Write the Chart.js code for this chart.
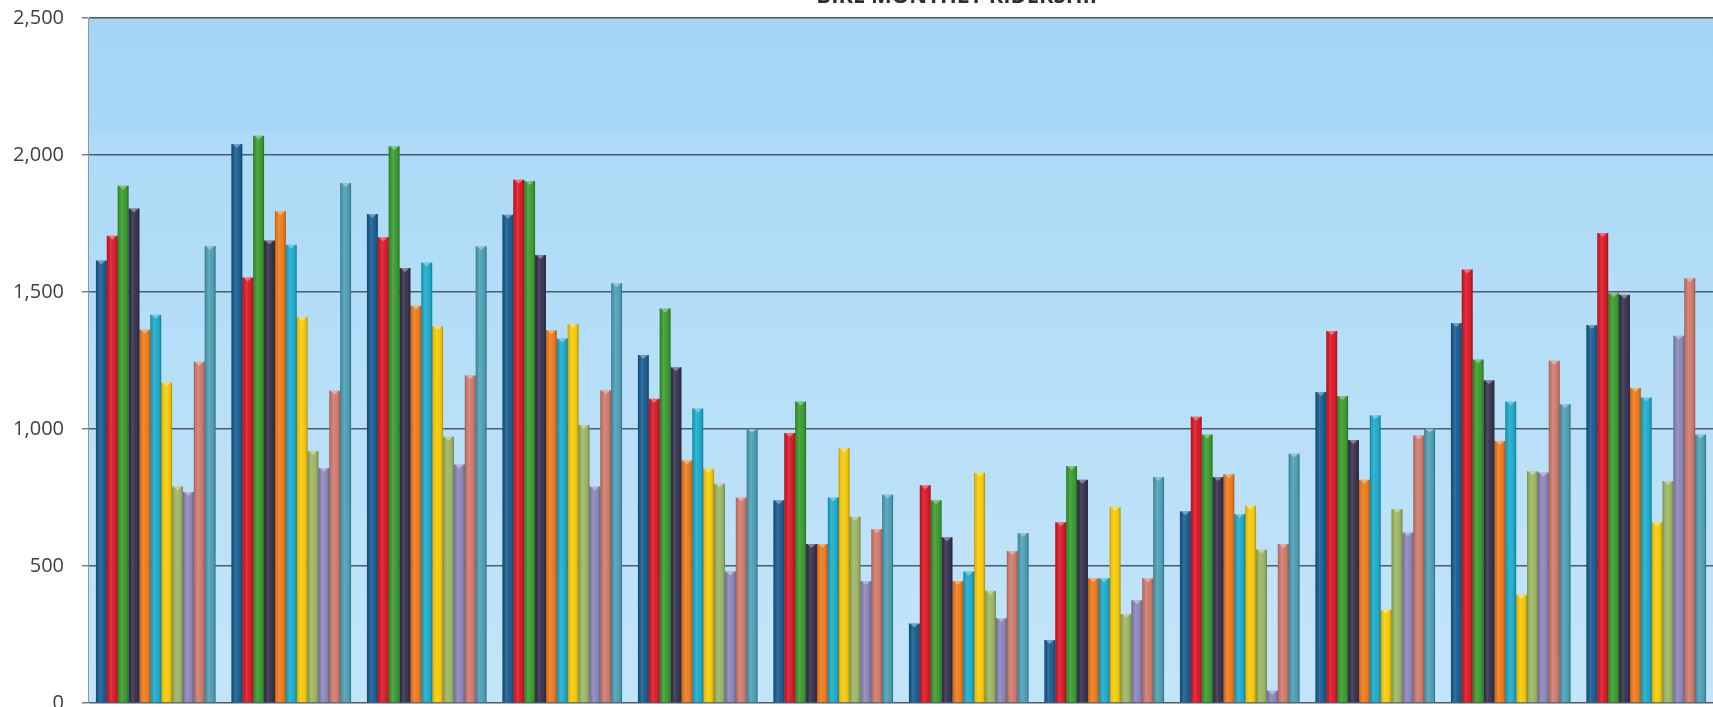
<!DOCTYPE html>
<html>
<head>
<meta charset="utf-8">
<script src="https://cdn.jsdelivr.net/npm/chart.js@4.4.1/dist/chart.umd.min.js"></script>
<style>
  html, body { margin: 0; padding: 0; background: #ffffff; overflow: hidden; width: 1713px; height: 707px; }
  #wrap { position: absolute; left: 0; top: -16px; width: 1920px; height: 749px; }
</style>
</head>
<body>
<div id="wrap"><canvas id="chart" width="1920" height="749"></canvas></div>
<script>
// Months on the category axis
const months = ['Jan', 'Feb', 'Mar', 'Apr', 'May', 'Jun', 'Jul', 'Aug', 'Sep', 'Oct', 'Nov', 'Dec'];

// Y-axis range and tick step
const yMin = 0;
const yMax = 2500;
const yStep = 500;

// Monthly ridership, one array per series
const series1  = [1615, 2040, 1785, 1782, 1270, 740, 290, 230, 700, 1135, 1387, 1380];
const series2  = [1705, 1553, 1700, 1910, 1110, 985, 795, 660, 1045, 1358, 1582, 1715];
const series3  = [1888, 2070, 2032, 1905, 1440, 1100, 740, 865, 980, 1120, 1254, 1495];
const series4  = [1805, 1688, 1588, 1635, 1225, 580, 605, 815, 825, 960, 1178, 1490];
const series5  = [1362, 1795, 1450, 1360, 885, 580, 445, 455, 835, 815, 956, 1150];
const series6  = [1417, 1672, 1608, 1330, 1075, 750, 480, 455, 690, 1050, 1100, 1115];
const series7  = [1170, 1408, 1375, 1383, 855, 930, 840, 715, 720, 340, 395, 660];
const series8  = [790, 920, 972, 1015, 800, 680, 410, 325, 560, 708, 846, 810];
const series9  = [770, 858, 870, 790, 480, 445, 310, 375, 45, 622, 841, 1340];
const series10 = [1245, 1140, 1196, 1141, 750, 635, 555, 455, 580, 977, 1249, 1550];
const series11 = [1668, 1898, 1667, 1532, 1000, 760, 620, 825, 910, 1001, 1090, 980];

const seriesNames = ['Series 1', 'Series 2', 'Series 3', 'Series 4', 'Series 5', 'Series 6',
                     'Series 7', 'Series 8', 'Series 9', 'Series 10', 'Series 11'];
const seriesData = [series1, series2, series3, series4, series5, series6,
                    series7, series8, series9, series10, series11];
const seriesColors = ['#1b5e90', '#da1b29', '#3b9c30', '#38334f', '#ee7b1c', '#1fabcb',
                      '#f6ca0a', '#9db664', '#8c86ba', '#cf7b6d', '#4e9fb6'];

// Light-blue gradient behind the plot area
const plotBackground = {
  id: 'plotBackground',
  beforeDraw(chart) {
    const { ctx, chartArea: a } = chart;
    const g = ctx.createLinearGradient(0, a.top, 0, a.bottom);
    g.addColorStop(0, '#a4d5f5');
    g.addColorStop(0.16, '#a8d8f7');
    g.addColorStop(0.17, '#addaf7');
    g.addColorStop(1, '#c3e5f9');
    ctx.save();
    ctx.fillStyle = g;
    ctx.fillRect(a.left, a.top, a.right - a.left, a.bottom - a.top);
    ctx.restore();
  }
};

// Cylinder-like shading across each bar plus a pale cap at its top
const barShading = {
  id: 'barShading',
  afterDatasetsDraw(chart) {
    const ctx = chart.ctx;
    const a = chart.chartArea;
    ctx.save();
    ctx.beginPath();
    ctx.rect(a.left, a.top, a.right - a.left, a.bottom - a.top);
    ctx.clip();
    chart.getSortedVisibleDatasetMetas().forEach(meta => {
      meta.data.forEach(bar => {
        const { x, y, base, width } = bar.getProps(['x', 'y', 'base', 'width'], true);
        const l = x - width / 2;
        const r = x + width / 2;
        const g = ctx.createLinearGradient(l, 0, r, 0);
        g.addColorStop(0, 'rgba(0,0,0,0.26)');
        g.addColorStop(0.15, 'rgba(0,0,0,0.03)');
        g.addColorStop(0.35, 'rgba(255,255,255,0.12)');
        g.addColorStop(0.6, 'rgba(255,255,255,0.02)');
        g.addColorStop(0.85, 'rgba(0,0,0,0.08)');
        g.addColorStop(1, 'rgba(0,0,0,0.30)');
        ctx.fillStyle = g;
        ctx.fillRect(l, y, width, base - y);
        ctx.fillStyle = 'rgba(255,255,255,0.35)';
        ctx.beginPath();
        ctx.moveTo(l + 1, y);
        ctx.lineTo(r - 1, y);
        ctx.lineTo(x, y + 4);
        ctx.closePath();
        ctx.fill();
      });
    });
    ctx.restore();
  }
};

new Chart(document.getElementById('chart'), {
  type: 'bar',
  data: {
    labels: months,
    datasets: seriesData.map((d, i) => ({
      label: seriesNames[i],
      data: d,
      backgroundColor: seriesColors[i],
      borderWidth: 0,
      barPercentage: 1.0,
      categoryPercentage: 0.883
    }))
  },
  options: {
    responsive: false,
    animation: false,
    layout: { padding: { left: 0, right: 0, top: 0, bottom: 30 } },
    plugins: {
      legend: { display: false },
      tooltip: { enabled: false },
      title: {
        display: true,
        text: 'BIKE MONTHLY RIDERSHIP',
        color: '#2b2f33',
        font: { family: 'Open Sans', size: 22, weight: 'bold' },
        padding: { top: 0, bottom: 7.6 }
      }
    },
    scales: {
      x: {
        grid: { display: false, drawTicks: false },
        ticks: { display: false },
        border: { display: false }
      },
      y: {
        min: yMin,
        max: yMax,
        ticks: {
          stepSize: yStep,
          padding: 18,
          color: '#404040',
          font: { family: 'Open Sans', size: 20 },
          callback: v => v.toLocaleString('en-US')
        },
        grid: { color: '#4c5c6a', lineWidth: 1.5, tickLength: 6, tickColor: '#808080' },
        border: { color: '#8a98a6', width: 1 },
        afterFit: s => { s.width = 88; }
      },
      side: {
        position: 'right',
        grid: { display: false, drawTicks: false },
        ticks: { display: false },
        border: { display: false },
        afterFit: s => { s.width = 206; }
      }
    }
  },
  plugins: [plotBackground, barShading]
});
</script>
</body>
</html>
